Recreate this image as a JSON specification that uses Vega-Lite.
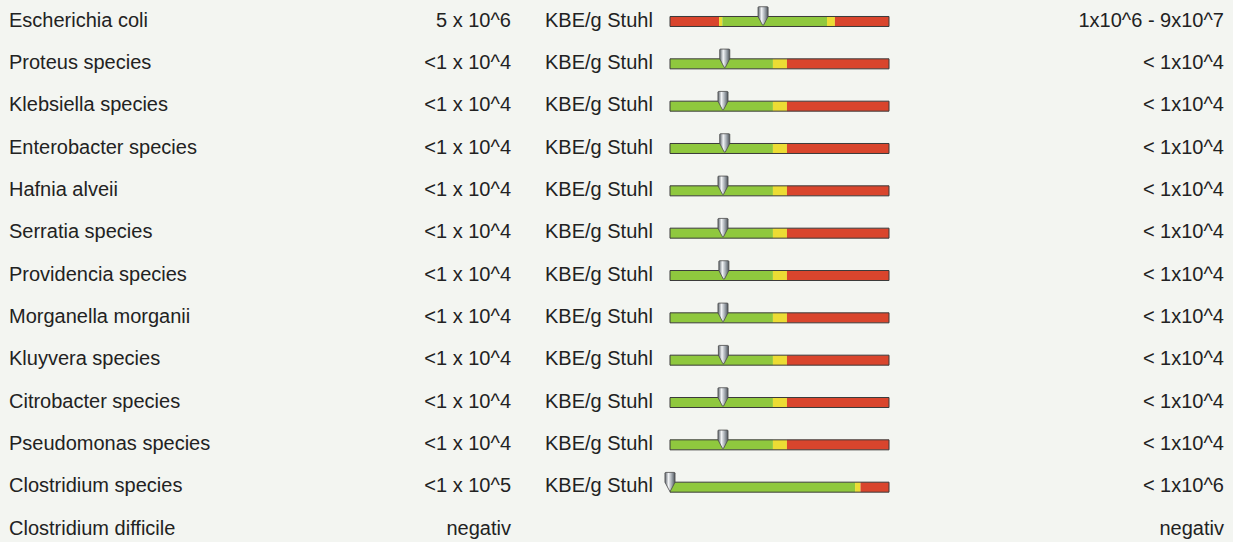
{
  "$schema": "https://vega.github.io/schema/vega-lite/v6.json",
  "background": "#f3f5f1",
  "padding": {"left": 9, "top": 5, "right": 9, "bottom": 0},
  "bounds": "flush",
  "spacing": 34,
  "config": {"view": {"stroke": null}},
  "datasets": {
    "rows": [
      {"organism": "Escherichia coli", "result": "5 x 10^6", "unit": "KBE/g Stuhl", "ref": "1x10^6 - 9x10^7"},
      {"organism": "Proteus species", "result": "<1 x 10^4", "unit": "KBE/g Stuhl", "ref": "< 1x10^4"},
      {"organism": "Klebsiella species", "result": "<1 x 10^4", "unit": "KBE/g Stuhl", "ref": "< 1x10^4"},
      {"organism": "Enterobacter species", "result": "<1 x 10^4", "unit": "KBE/g Stuhl", "ref": "< 1x10^4"},
      {"organism": "Hafnia alveii", "result": "<1 x 10^4", "unit": "KBE/g Stuhl", "ref": "< 1x10^4"},
      {"organism": "Serratia species", "result": "<1 x 10^4", "unit": "KBE/g Stuhl", "ref": "< 1x10^4"},
      {"organism": "Providencia species", "result": "<1 x 10^4", "unit": "KBE/g Stuhl", "ref": "< 1x10^4"},
      {"organism": "Morganella morganii", "result": "<1 x 10^4", "unit": "KBE/g Stuhl", "ref": "< 1x10^4"},
      {"organism": "Kluyvera species", "result": "<1 x 10^4", "unit": "KBE/g Stuhl", "ref": "< 1x10^4"},
      {"organism": "Citrobacter species", "result": "<1 x 10^4", "unit": "KBE/g Stuhl", "ref": "< 1x10^4"},
      {"organism": "Pseudomonas species", "result": "<1 x 10^4", "unit": "KBE/g Stuhl", "ref": "< 1x10^4"},
      {"organism": "Clostridium species", "result": "<1 x 10^5", "unit": "KBE/g Stuhl", "ref": "< 1x10^6"},
      {"organism": "Clostridium difficile", "result": "negativ", "unit": "", "ref": "negativ"}
    ],
    "segments": [
      {"organism": "Escherichia coli", "zone": "rot", "start": 0, "end": 22.4},
      {"organism": "Escherichia coli", "zone": "gelb", "start": 22.4, "end": 23.9},
      {"organism": "Escherichia coli", "zone": "grün", "start": 23.9, "end": 71.7},
      {"organism": "Escherichia coli", "zone": "gelb", "start": 71.7, "end": 75.3},
      {"organism": "Escherichia coli", "zone": "rot", "start": 75.3, "end": 100},
      {"organism": "Proteus species", "zone": "grün", "start": 0, "end": 47},
      {"organism": "Proteus species", "zone": "gelb", "start": 47, "end": 53.4},
      {"organism": "Proteus species", "zone": "rot", "start": 53.4, "end": 100},
      {"organism": "Klebsiella species", "zone": "grün", "start": 0, "end": 47},
      {"organism": "Klebsiella species", "zone": "gelb", "start": 47, "end": 53.4},
      {"organism": "Klebsiella species", "zone": "rot", "start": 53.4, "end": 100},
      {"organism": "Enterobacter species", "zone": "grün", "start": 0, "end": 47},
      {"organism": "Enterobacter species", "zone": "gelb", "start": 47, "end": 53.4},
      {"organism": "Enterobacter species", "zone": "rot", "start": 53.4, "end": 100},
      {"organism": "Hafnia alveii", "zone": "grün", "start": 0, "end": 47},
      {"organism": "Hafnia alveii", "zone": "gelb", "start": 47, "end": 53.4},
      {"organism": "Hafnia alveii", "zone": "rot", "start": 53.4, "end": 100},
      {"organism": "Serratia species", "zone": "grün", "start": 0, "end": 47},
      {"organism": "Serratia species", "zone": "gelb", "start": 47, "end": 53.4},
      {"organism": "Serratia species", "zone": "rot", "start": 53.4, "end": 100},
      {"organism": "Providencia species", "zone": "grün", "start": 0, "end": 47},
      {"organism": "Providencia species", "zone": "gelb", "start": 47, "end": 53.4},
      {"organism": "Providencia species", "zone": "rot", "start": 53.4, "end": 100},
      {"organism": "Morganella morganii", "zone": "grün", "start": 0, "end": 47},
      {"organism": "Morganella morganii", "zone": "gelb", "start": 47, "end": 53.4},
      {"organism": "Morganella morganii", "zone": "rot", "start": 53.4, "end": 100},
      {"organism": "Kluyvera species", "zone": "grün", "start": 0, "end": 47},
      {"organism": "Kluyvera species", "zone": "gelb", "start": 47, "end": 53.4},
      {"organism": "Kluyvera species", "zone": "rot", "start": 53.4, "end": 100},
      {"organism": "Citrobacter species", "zone": "grün", "start": 0, "end": 47},
      {"organism": "Citrobacter species", "zone": "gelb", "start": 47, "end": 53.4},
      {"organism": "Citrobacter species", "zone": "rot", "start": 53.4, "end": 100},
      {"organism": "Pseudomonas species", "zone": "grün", "start": 0, "end": 47},
      {"organism": "Pseudomonas species", "zone": "gelb", "start": 47, "end": 53.4},
      {"organism": "Pseudomonas species", "zone": "rot", "start": 53.4, "end": 100},
      {"organism": "Clostridium species", "zone": "grün", "start": 0, "end": 84.5},
      {"organism": "Clostridium species", "zone": "gelb", "start": 84.5, "end": 87},
      {"organism": "Clostridium species", "zone": "rot", "start": 87, "end": 100}
    ],
    "markers": [
      {"organism": "Escherichia coli", "pos": 42.5},
      {"organism": "Proteus species", "pos": 25},
      {"organism": "Klebsiella species", "pos": 24.2},
      {"organism": "Enterobacter species", "pos": 25},
      {"organism": "Hafnia alveii", "pos": 24.2},
      {"organism": "Serratia species", "pos": 24.2},
      {"organism": "Providencia species", "pos": 24.6},
      {"organism": "Morganella morganii", "pos": 24.2},
      {"organism": "Kluyvera species", "pos": 24.4},
      {"organism": "Citrobacter species", "pos": 24.2},
      {"organism": "Pseudomonas species", "pos": 24.2},
      {"organism": "Clostridium species", "pos": 0}
    ]
  },
  "hconcat": [
    {
      "width": 502,
      "height": 537,
      "data": {"name": "rows"},
      "layer": [
        {
          "mark": {"type": "text", "align": "left", "baseline": "middle", "dy": 1.2, "font": "Liberation Sans", "fontSize": 20, "color": "#222222"},
          "encoding": {
            "y": {"field": "organism", "type": "nominal", "axis": null, "scale": {"type": "point", "padding": 0.3425, "domain": ["Escherichia coli", "Proteus species", "Klebsiella species", "Enterobacter species", "Hafnia alveii", "Serratia species", "Providencia species", "Morganella morganii", "Kluyvera species", "Citrobacter species", "Pseudomonas species", "Clostridium species", "Clostridium difficile"]}},
            "x": {"value": 0},
            "text": {"field": "organism"}
          }
        },
        {
          "mark": {"type": "text", "align": "right", "baseline": "middle", "dy": 1.2, "font": "Liberation Sans", "fontSize": 20, "color": "#222222"},
          "encoding": {
            "y": {"field": "organism", "type": "nominal", "axis": null, "scale": {"type": "point", "padding": 0.3425, "domain": ["Escherichia coli", "Proteus species", "Klebsiella species", "Enterobacter species", "Hafnia alveii", "Serratia species", "Providencia species", "Morganella morganii", "Kluyvera species", "Citrobacter species", "Pseudomonas species", "Clostridium species", "Clostridium difficile"]}},
            "x": {"value": "width"},
            "text": {"field": "result"}
          }
        }
      ]
    },
    {
      "width": 91,
      "height": 537,
      "data": {"name": "rows"},
      "mark": {"type": "text", "align": "left", "baseline": "middle", "dy": 1.2, "font": "Liberation Sans", "fontSize": 20, "color": "#222222"},
      "encoding": {
        "y": {"field": "organism", "type": "nominal", "axis": null, "scale": {"type": "point", "padding": 0.3425, "domain": ["Escherichia coli", "Proteus species", "Klebsiella species", "Enterobacter species", "Hafnia alveii", "Serratia species", "Providencia species", "Morganella morganii", "Kluyvera species", "Citrobacter species", "Pseudomonas species", "Clostridium species", "Clostridium difficile"]}},
        "x": {"value": 0},
        "text": {"field": "unit"}
      }
    },
    {
      "width": 219,
      "height": 537,
      "layer": [
        {
          "data": {"name": "segments"},
          "mark": {"type": "bar", "height": 10, "yOffset": 2},
          "encoding": {
            "y": {"field": "organism", "type": "nominal", "axis": null, "scale": {"type": "point", "padding": 0.3425, "domain": ["Escherichia coli", "Proteus species", "Klebsiella species", "Enterobacter species", "Hafnia alveii", "Serratia species", "Providencia species", "Morganella morganii", "Kluyvera species", "Citrobacter species", "Pseudomonas species", "Clostridium species", "Clostridium difficile"]}},
            "x": {"field": "start", "type": "quantitative", "axis": null, "scale": {"domain": [0, 100], "nice": false, "zero": false}},
            "x2": {"field": "end"},
            "color": {"field": "zone", "type": "nominal", "legend": null, "scale": {"domain": ["rot", "gelb", "grün"], "range": ["#d9452d", "#ecdc34", "#8fc83e"]}}
          }
        },
        {
          "data": {"name": "markers"},
          "mark": {"type": "bar", "height": 10, "yOffset": 2, "fillOpacity": 0, "stroke": "#3b3b3b", "strokeWidth": 1},
          "encoding": {
            "y": {"field": "organism", "type": "nominal", "axis": null, "scale": {"type": "point", "padding": 0.3425, "domain": ["Escherichia coli", "Proteus species", "Klebsiella species", "Enterobacter species", "Hafnia alveii", "Serratia species", "Providencia species", "Morganella morganii", "Kluyvera species", "Citrobacter species", "Pseudomonas species", "Clostridium species", "Clostridium difficile"]}},
            "x": {"datum": 0, "type": "quantitative"},
            "x2": {"datum": 100}
          }
        },
        {
          "data": {"name": "markers"},
          "mark": {
            "type": "point",
            "filled": true,
            "yOffset": -3.6,
            "size": 335,
            "opacity": 1,
            "shape": "M-0.55,-0.92 Q-0.55,-1 -0.45,-1 L0.45,-1 Q0.55,-1 0.55,-0.92 L0.55,0.07 L0.06,1 L-0.06,1 L-0.55,0.07 Z",
            "fill": {"gradient": "linear", "x1": 0, "y1": 0, "x2": 1, "y2": 0, "stops": [{"offset": 0, "color": "#5f666d"}, {"offset": 0.35, "color": "#f2f4f6"}, {"offset": 0.7, "color": "#9aa1a8"}, {"offset": 1, "color": "#4e545a"}]},
            "stroke": "#4a4a4a",
            "strokeWidth": 0.8
          },
          "encoding": {
            "y": {"field": "organism", "type": "nominal", "axis": null, "scale": {"type": "point", "padding": 0.3425, "domain": ["Escherichia coli", "Proteus species", "Klebsiella species", "Enterobacter species", "Hafnia alveii", "Serratia species", "Providencia species", "Morganella morganii", "Kluyvera species", "Citrobacter species", "Pseudomonas species", "Clostridium species", "Clostridium difficile"]}},
            "x": {"field": "pos", "type": "quantitative"}
          }
        }
      ]
    },
    {
      "width": 301,
      "height": 537,
      "data": {"name": "rows"},
      "mark": {"type": "text", "align": "right", "baseline": "middle", "dy": 1.2, "font": "Liberation Sans", "fontSize": 20, "color": "#222222"},
      "encoding": {
        "y": {"field": "organism", "type": "nominal", "axis": null, "scale": {"type": "point", "padding": 0.3425, "domain": ["Escherichia coli", "Proteus species", "Klebsiella species", "Enterobacter species", "Hafnia alveii", "Serratia species", "Providencia species", "Morganella morganii", "Kluyvera species", "Citrobacter species", "Pseudomonas species", "Clostridium species", "Clostridium difficile"]}},
        "x": {"value": "width"},
        "text": {"field": "ref"}
      }
    }
  ]
}
